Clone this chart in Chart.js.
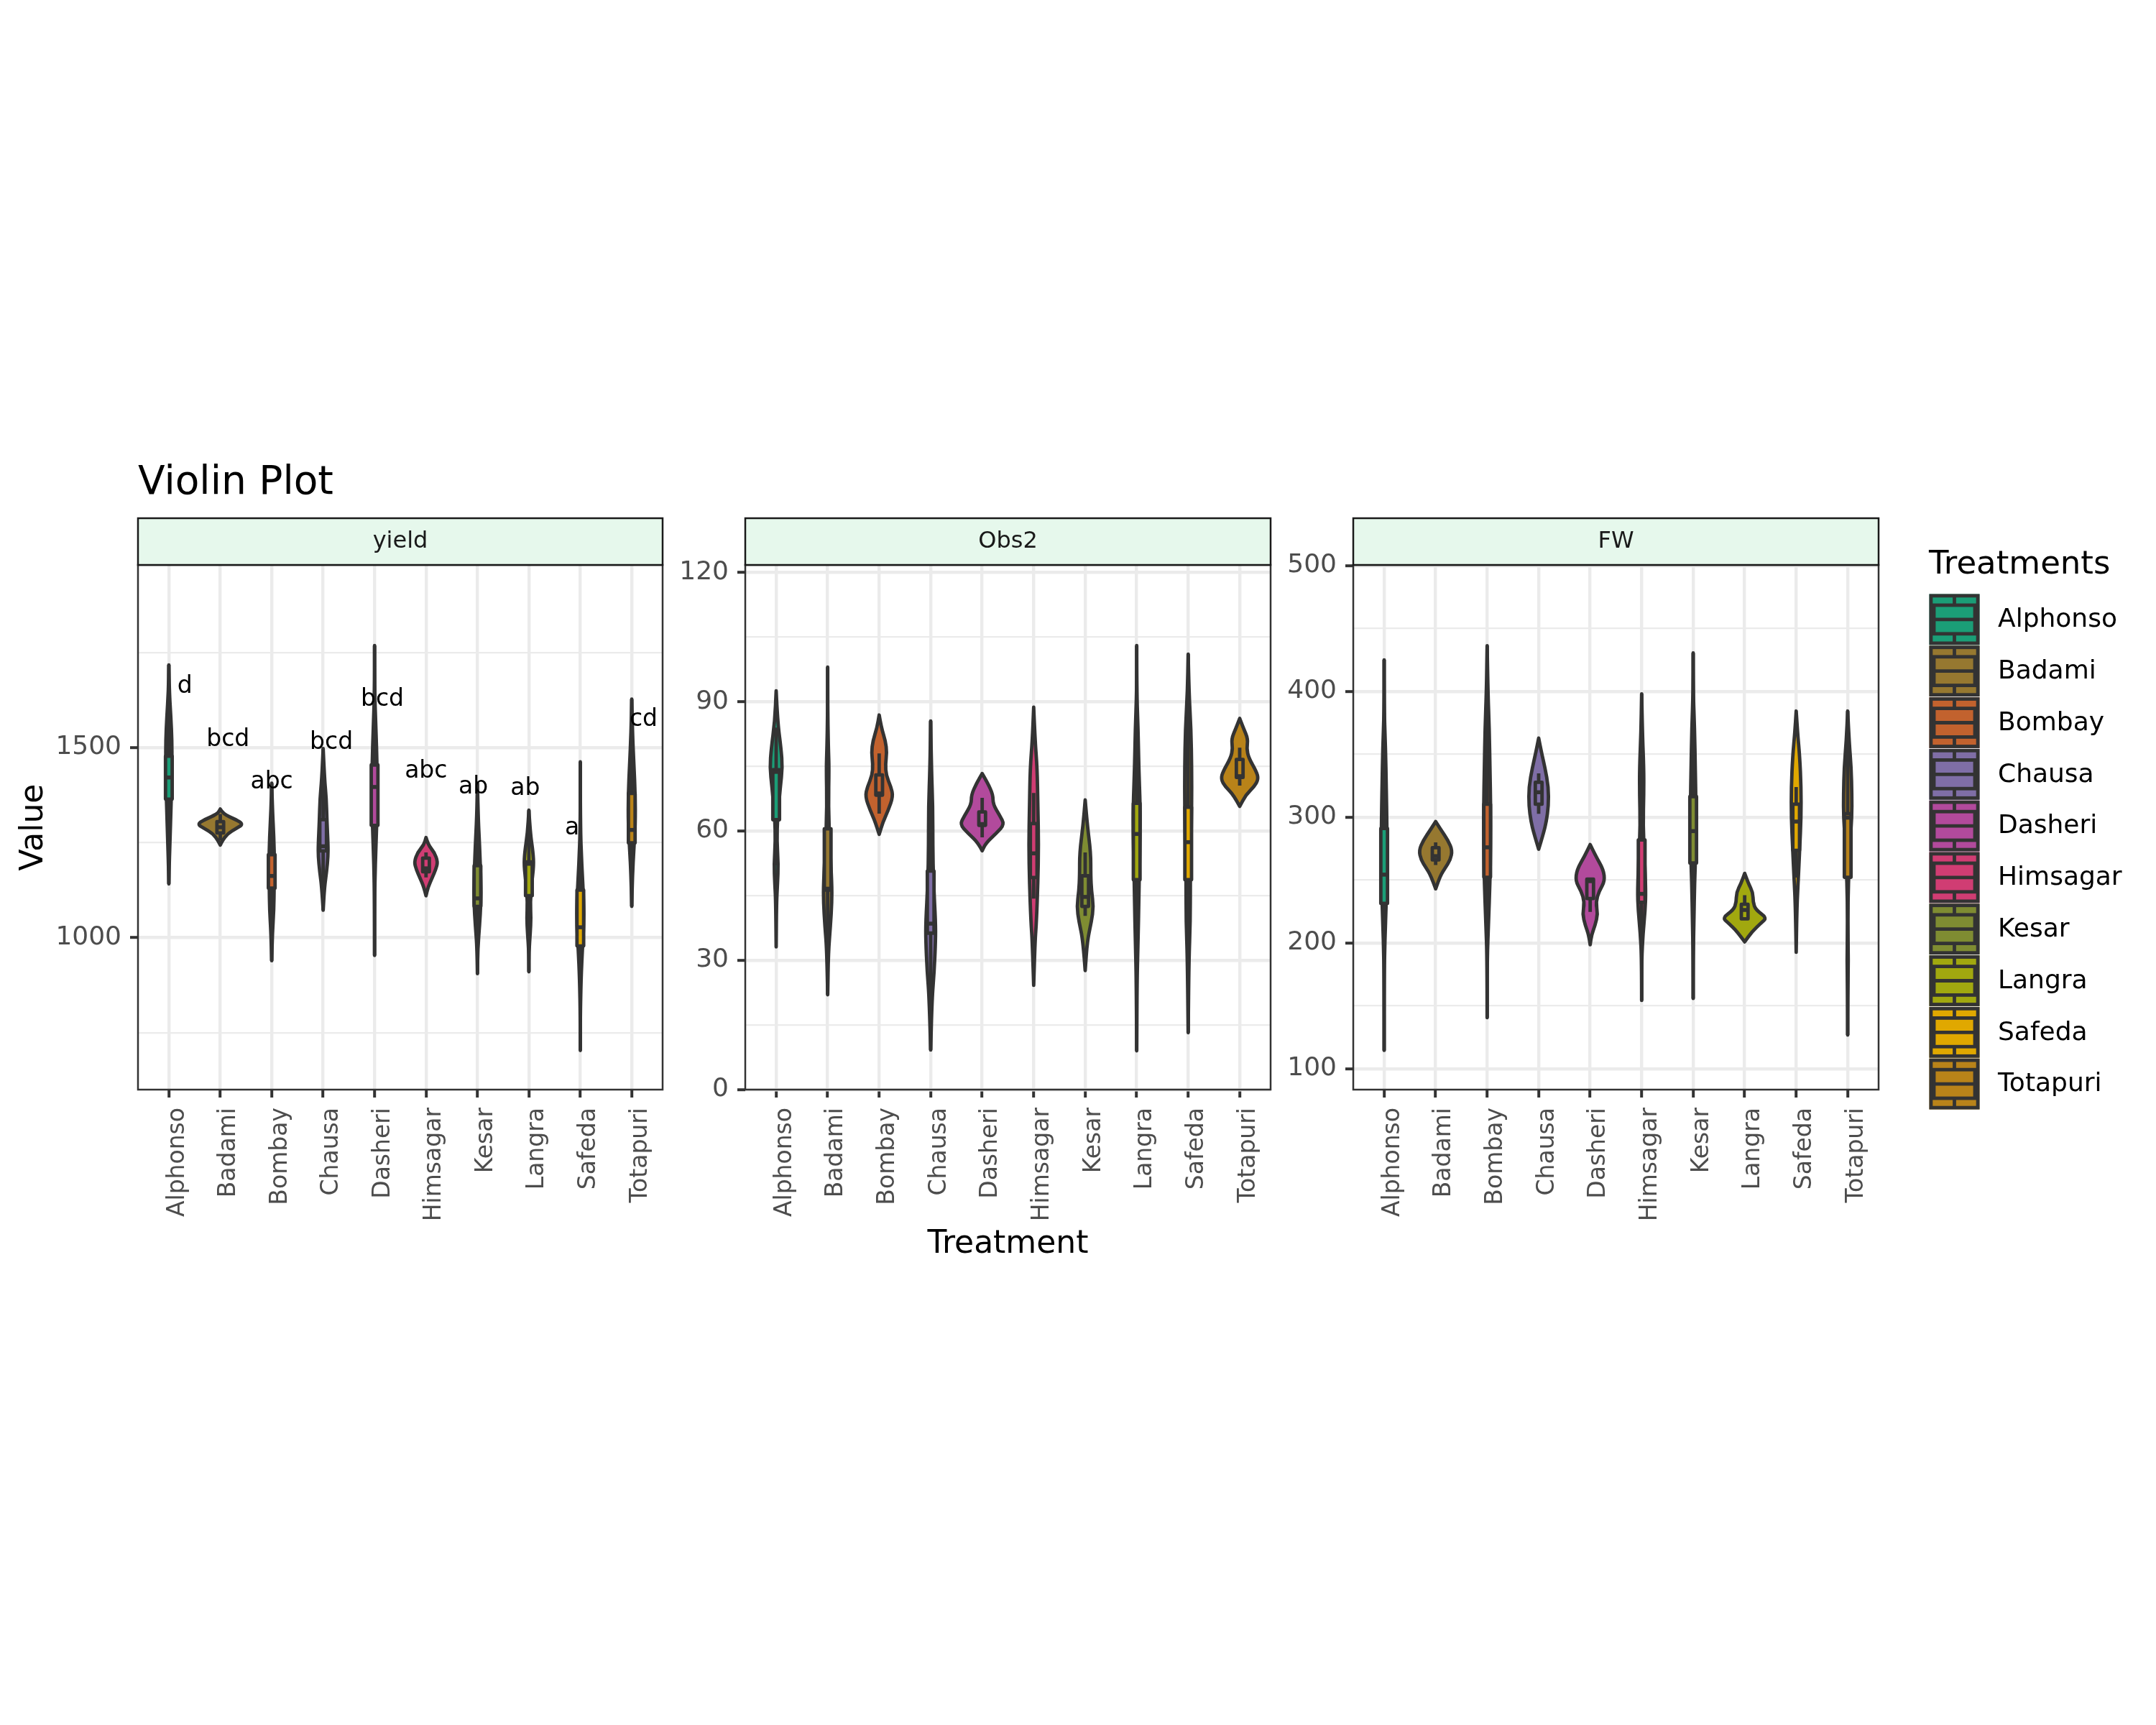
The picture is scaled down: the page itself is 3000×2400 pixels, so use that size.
<!DOCTYPE html>
<html>
<head>
<meta charset="utf-8">
<title>Violin Plot</title>
<script src="https://cdn.jsdelivr.net/npm/chart.js@4.4.1/dist/chart.umd.min.js"></script>
<style>
  html, body { margin: 0; padding: 0; background: #ffffff; }
  #wrap { position: relative; width: 3000px; height: 2400px; }
  #wrap canvas { position: absolute; left: 0; top: 0; }
</style>
</head>
<body>
<div id="wrap">
  <canvas id="p0" width="3000" height="2400"></canvas>
  <canvas id="p1" width="3000" height="2400"></canvas>
  <canvas id="p2" width="3000" height="2400"></canvas>
</div>
<script>
const treatments = ['Alphonso', 'Badami', 'Bombay', 'Chausa', 'Dasheri', 'Himsagar', 'Kesar', 'Langra', 'Safeda', 'Totapuri'];
const treatmentColours = ['#1b9e77', '#967830', '#c2622e', '#7f6ea6', '#b24a9c', '#d03d73', '#7f8c32', '#a1a80f', '#e0a800', '#b98319'];

// density outlines: [value, half width in category units], top tip to bottom tip
// boxes: [lower whisker, q1, median, q3, upper whisker]

// yield
const yieldRange = [600, 1980];
const yieldTicks = [1000, 1500];
const yieldMinorTicks = [750, 1250, 1750];
const yieldDensity = [
  [[1717, 0], [1649, 0.008], [1578, 0.04], [1518, 0.06], [1457, 0.06], [1396, 0.054], [1335, 0.04], [1265, 0.025], [1194, 0.008], [1141, 0]],
  [[1338, 0], [1325, 0.054], [1310, 0.311], [1298, 0.446], [1287, 0.311], [1273, 0.142], [1255, 0.041], [1243, 0]],
  [[1406, 0], [1336, 0.014], [1265, 0.041], [1194, 0.054], [1133, 0.047], [1072, 0.041], [1012, 0.014], [939, 0]],
  [[1497, 0], [1417, 0.027], [1366, 0.061], [1305, 0.074], [1244, 0.095], [1214, 0.095], [1174, 0.068], [1133, 0.027], [1072, 0]],
  [[1768, 0], [1649, 0], [1548, 0.027], [1457, 0.047], [1376, 0.054], [1295, 0.041], [1194, 0.014], [1092, 0], [953, 0]],
  [[1263, 0], [1244, 0.041], [1224, 0.162], [1199, 0.23], [1179, 0.189], [1158, 0.122], [1133, 0.041], [1110, 0]],
  [[1406, 0], [1315, 0.014], [1244, 0.041], [1143, 0.068], [1092, 0.068], [1032, 0.041], [971, 0.007], [905, 0]],
  [[1335, 0], [1275, 0.027], [1224, 0.081], [1189, 0.095], [1143, 0.054], [1092, 0.027], [1052, 0.041], [1012, 0.027], [961, 0], [910, 0]],
  [[1462, 0], [1295, 0], [1194, 0.027], [1092, 0.068], [1032, 0.068], [971, 0.041], [890, 0.014], [789, 0], [703, 0]],
  [[1627, 0], [1538, 0.014], [1457, 0.041], [1376, 0.068], [1295, 0.068], [1234, 0.041], [1163, 0.014], [1082, 0]]
];
const yieldBox = [
  [1141, 1364, 1421, 1477, 1717],
  [1255, 1275, 1290, 1305, 1325],
  [939, 1130, 1162, 1218, 1406],
  [1072, 1228, 1240, 1310, 1497],
  [953, 1295, 1396, 1454, 1768],
  [1158, 1173, 1182, 1209, 1224],
  [905, 1082, 1103, 1189, 1406],
  [910, 1110, 1194, 1199, 1335],
  [703, 978, 1027, 1125, 1462],
  [1082, 1249, 1283, 1379, 1627]
];
const yieldLetters = ['d', 'bcd', 'abc', 'bcd', 'bcd', 'abc', 'ab', 'ab', 'a', 'cd'];
const yieldLetterY = [1660, 1520, 1408, 1513, 1626, 1437, 1396, 1391, 1287, 1573];
const yieldLetterShift = [0.31, 0.15, 0, 0.16, 0.15, 0, -0.08, -0.07, -0.16, 0.23];

// Obs2
const obs2Range = [0, 121.7];
const obs2Ticks = [0, 30, 60, 90, 120];
const obs2MinorTicks = [15, 45, 75, 105];
const obs2Density = [
  [[92.5, 0], [85.4, 0.027], [79.1, 0.095], [74.7, 0.122], [70.2, 0.081], [63.0, 0.027], [57.7, 0.014], [52.3, 0.041], [47.9, 0.027], [43.4, 0.007], [33.1, 0]],
  [[98, 0], [88, 0], [79.1, 0.014], [74.6, 0.027], [65.7, 0.014], [56.8, 0.041], [47.9, 0.081], [43.4, 0.081], [38, 0.054], [31.8, 0.014], [22, 0]],
  [[86.9, 0], [84, 0.041], [80.9, 0.122], [78.2, 0.149], [75.5, 0.122], [72.9, 0.135], [70.2, 0.23], [68, 0.27], [64.8, 0.176], [62.1, 0.074], [59.2, 0]],
  [[85.5, 0], [74.6, 0.014], [65.7, 0.041], [56.8, 0.041], [47.9, 0.054], [39, 0.095], [34.5, 0.095], [27.3, 0.068], [21.1, 0.027], [9.2, 0]],
  [[73.3, 0], [71.1, 0.108], [68.4, 0.21], [66.2, 0.21], [63.5, 0.345], [61.5, 0.432], [59.5, 0.277], [57.2, 0.074], [55.4, 0]],
  [[88.7, 0], [80.9, 0.027], [74.6, 0.068], [65.7, 0.081], [56.8, 0.095], [47.9, 0.081], [39, 0.054], [34.5, 0.027], [24.2, 0]],
  [[67.2, 0], [61.3, 0.041], [55, 0.108], [49.7, 0.108], [46.1, 0.122], [42.5, 0.162], [39, 0.122], [34.5, 0.041], [27.6, 0]],
  [[103, 0], [92.5, 0], [83.6, 0.027], [74.6, 0.041], [65.7, 0.068], [59.5, 0.068], [52.3, 0.054], [43.4, 0.041], [34.5, 0.027], [25.6, 0.007], [9, 0]],
  [[101, 0], [92.5, 0.014], [83.6, 0.054], [74.6, 0.068], [65.7, 0.068], [56.8, 0.054], [47.9, 0.041], [39, 0.041], [30, 0.014], [13.2, 0]],
  [[86.1, 0], [84, 0.068], [81.3, 0.162], [79.1, 0.135], [76.9, 0.176], [73.8, 0.324], [72, 0.365], [70.2, 0.277], [68.4, 0.122], [65.7, 0]]
];
const obs2Box = [
  [52, 62.6, 73.7, 74.2, 84],
  [22, 46.3, 46.6, 60.5, 98],
  [64, 68.3, 68.7, 73, 78],
  [9.2, 36.3, 38.5, 50.7, 85.5],
  [58.5, 61.3, 61.6, 64.4, 67.7],
  [44.3, 49.2, 54.8, 61.7, 68.8],
  [40.3, 42.5, 44.7, 49.6, 55],
  [9, 48.7, 59.3, 66.4, 103],
  [13.2, 48.7, 57.4, 65.5, 101],
  [70.5, 72.4, 72.7, 76.6, 79.3]
];

// FW
const fwRange = [83.3, 500.6];
const fwTicks = [100, 200, 300, 400, 500];
const fwMinorTicks = [150, 250, 350, 450];
const fwDensity = [
  [[425.1, 0], [385.3, 0], [354.7, 0.027], [324.1, 0.041], [293.5, 0.054], [262.9, 0.054], [232.3, 0.041], [201.7, 0.014], [171.1, 0], [114.5, 0]],
  [[296.5, 0], [290.4, 0.095], [281.3, 0.243], [273.6, 0.324], [266, 0.284], [259.8, 0.189], [253.7, 0.095], [243, 0]],
  [[436.4, 0], [400.6, 0.014], [370, 0.041], [339.4, 0.054], [308.8, 0.068], [278.2, 0.068], [247.6, 0.054], [217, 0.027], [186.4, 0], [140.5, 0]],
  [[362.9, 0], [351.6, 0.054], [339.4, 0.122], [324.1, 0.19], [308.8, 0.19], [296.5, 0.149], [287.4, 0.095], [274.5, 0]],
  [[278.2, 0], [269, 0.108], [258.3, 0.257], [249.1, 0.284], [241.4, 0.176], [232.3, 0.108], [223.1, 0.149], [213.9, 0.095], [206.3, 0.027], [198.6, 0]],
  [[398.1, 0], [366.9, 0.014], [339.4, 0.041], [318, 0.041], [293.5, 0.027], [269, 0.054], [241.4, 0.081], [226.2, 0.068], [207.8, 0.027], [186.4, 0], [154.2, 0]],
  [[430.6, 0], [400.6, 0], [370, 0.027], [339.4, 0.041], [308.8, 0.054], [278.2, 0.054], [247.6, 0.027], [217, 0.014], [186.4, 0], [155.8, 0]],
  [[255.3, 0], [247.6, 0.068], [240, 0.162], [232.3, 0.162], [226.2, 0.216], [220, 0.432], [215.5, 0.311], [209.3, 0.149], [200.8, 0]],
  [[384.4, 0], [366.9, 0.027], [348.6, 0.068], [324.1, 0.095], [299.6, 0.095], [275.1, 0.068], [250.6, 0.041], [229.2, 0.014], [192.5, 0]],
  [[384.4, 0], [360.8, 0.027], [339.4, 0.068], [318, 0.081], [299.6, 0.081], [278.2, 0.041], [247.6, 0.014], [217, 0], [186.4, 0.014], [155.8, 0], [126.7, 0]]
];
const fwBox = [
  [114.5, 231.4, 254.3, 291, 425.1],
  [262, 266, 269, 275.7, 280],
  [140.5, 252.2, 276, 310.3, 436.4],
  [302.7, 310.3, 319.8, 327.8, 334.8],
  [224.6, 235.3, 249.1, 250.7, 252],
  [154.2, 232.3, 239, 281.9, 398.1],
  [155.8, 263.5, 288.9, 316.4, 430.6],
  [219, 219.1, 226.2, 230.7, 238],
  [252, 273.6, 296.5, 310.3, 324],
  [126.7, 252.2, 299.6, 302.7, 384.4]
];

const panels = [
  { name: 'yield', range: yieldRange, ticks: yieldTicks, minor: yieldMinorTicks, density: yieldDensity, box: yieldBox,
    letters: yieldLetters, letterY: yieldLetterY, letterShift: yieldLetterShift },
  { name: 'Obs2', range: obs2Range, ticks: obs2Ticks, minor: obs2MinorTicks, density: obs2Density, box: obs2Box },
  { name: 'FW', range: fwRange, ticks: fwTicks, minor: fwMinorTicks, density: fwDensity, box: fwBox }
];

// layout in page pixels
const FONT = '"DejaVu Sans", sans-serif';
const TOP = 786, BOTTOM = 1516, STRIP_H = 65;
const PANEL_X = [[192, 922], [1037, 1768], [1883, 2614]];
const Y_AXIS_W = 180, X_AXIS_H = 200;
const OUTLINE = '#333333';
const LW = 4.8;
const BOX_HALF = 0.065;

function side(ctx, pts, start) {
  if (start) ctx.moveTo(pts[0][0], pts[0][1]);
  else ctx.lineTo(pts[0][0], pts[0][1]);
  for (let k = 1; k < pts.length - 1; k++) {
    const mx = (pts[k][0] + pts[k + 1][0]) / 2;
    const my = (pts[k][1] + pts[k + 1][1]) / 2;
    ctx.quadraticCurveTo(pts[k][0], pts[k][1], mx, my);
  }
  const last = pts[pts.length - 1];
  ctx.lineTo(last[0], last[1]);
}

function drawViolin(ctx, xs, ys, i, knots, colour) {
  const right = knots.map(([v, w]) => [xs.getPixelForValue(i + w), ys.getPixelForValue(v)]);
  const left = knots.slice().reverse().map(([v, w]) => [xs.getPixelForValue(i - w), ys.getPixelForValue(v)]);
  ctx.beginPath();
  side(ctx, right, true);
  side(ctx, left, false);
  ctx.closePath();
  ctx.fillStyle = colour;
  ctx.fill();
  ctx.lineWidth = LW;
  ctx.strokeStyle = OUTLINE;
  ctx.lineJoin = 'round';
  ctx.lineCap = 'round';
  ctx.stroke();
}

function drawBox(ctx, xs, ys, i, b, colour) {
  const [lo, q1, med, q3, hi] = b;
  const cx = xs.getPixelForValue(i);
  const x0 = xs.getPixelForValue(i - BOX_HALF);
  const x1 = xs.getPixelForValue(i + BOX_HALF);
  ctx.strokeStyle = OUTLINE;
  ctx.lineWidth = LW;
  ctx.lineCap = 'butt';
  ctx.beginPath();
  ctx.moveTo(cx, ys.getPixelForValue(hi)); ctx.lineTo(cx, ys.getPixelForValue(q3));
  ctx.moveTo(cx, ys.getPixelForValue(q1)); ctx.lineTo(cx, ys.getPixelForValue(lo));
  ctx.stroke();
  const yTop = ys.getPixelForValue(q3), yBot = ys.getPixelForValue(q1);
  ctx.fillStyle = colour;
  ctx.fillRect(x0, yTop, x1 - x0, yBot - yTop);
  ctx.strokeRect(x0, yTop, x1 - x0, yBot - yTop);
  ctx.lineWidth = 5.5;
  ctx.beginPath();
  const ym = ys.getPixelForValue(med);
  ctx.moveTo(x0, ym); ctx.lineTo(x1, ym);
  ctx.stroke();
}

function drawDecor(ctx) {
  ctx.save();
  ctx.fillStyle = '#000000';
  ctx.font = '55px ' + FONT;
  ctx.textAlign = 'left';
  ctx.textBaseline = 'alphabetic';
  ctx.fillText('Violin Plot', 192, 687);

  ctx.font = '44px ' + FONT;
  ctx.textAlign = 'center';
  ctx.fillText('Treatment', (PANEL_X[1][0] + PANEL_X[1][1]) / 2, 1743);
  ctx.save();
  ctx.translate(59, (TOP + BOTTOM) / 2);
  ctx.rotate(-Math.PI / 2);
  ctx.fillText('Value', 0, 0);
  ctx.restore();

  // legend
  const lx = 2684, lw = 71, ly = 826, lh = 71.8;
  ctx.textAlign = 'left';
  ctx.font = '45px ' + FONT;
  ctx.fillText('Treatments', lx, 798);
  ctx.font = '36px ' + FONT;
  ctx.textBaseline = 'middle';
  treatments.forEach((t, k) => {
    const top = ly + k * lh;
    ctx.fillStyle = treatmentColours[k];
    ctx.fillRect(lx + 0.5, top + 0.5, lw - 1, lh - 1);
    ctx.strokeStyle = OUTLINE;
    ctx.lineWidth = LW;
    ctx.strokeRect(lx + 2.9, top + 2.9, lw - 5.8, lh - 5.8);
    const bx0 = lx + 7, bx1 = lx + lw - 7, by0 = top + 16, by1 = top + lh - 16;
    const cx = lx + lw / 2;
    ctx.beginPath();
    ctx.moveTo(cx, top + 3); ctx.lineTo(cx, by0);
    ctx.moveTo(cx, by1); ctx.lineTo(cx, top + lh - 3);
    ctx.moveTo(bx0, (by0 + by1) / 2); ctx.lineTo(bx1, (by0 + by1) / 2);
    ctx.stroke();
    ctx.strokeRect(bx0, by0, bx1 - bx0, by1 - by0);
    ctx.fillStyle = '#000000';
    ctx.fillText(t, 2780, top + lh / 2 + 1);
  });
  ctx.restore();
}

function panelPlugin(k, p) {
  return {
    id: 'violinPanel' + k,
    afterDatasetsDraw(chart) {
      const { ctx, scales: { x, y } } = chart;
      ctx.save();
      p.density.forEach((knots, i) => {
        drawViolin(ctx, x, y, i, knots, treatmentColours[i]);
        drawBox(ctx, x, y, i, p.box[i], treatmentColours[i]);
      });
      if (p.letters) {
        ctx.fillStyle = '#000000';
        ctx.font = '33px ' + FONT;
        ctx.textAlign = 'center';
        ctx.textBaseline = 'middle';
        p.letters.forEach((l, i) => {
          ctx.fillText(l, x.getPixelForValue(i + p.letterShift[i]), y.getPixelForValue(p.letterY[i]));
        });
      }
      ctx.restore();
    },
    afterDraw(chart) {
      const { ctx, chartArea: a } = chart;
      ctx.save();
      ctx.strokeStyle = OUTLINE;
      ctx.lineWidth = 2.5;
      ctx.strokeRect(a.left, a.top, a.right - a.left, a.bottom - a.top);
      ctx.fillStyle = '#e6f8ec';
      ctx.fillRect(a.left, a.top - STRIP_H, a.right - a.left, STRIP_H);
      ctx.strokeStyle = '#1a1a1a';
      ctx.strokeRect(a.left, a.top - STRIP_H, a.right - a.left, STRIP_H);
      ctx.fillStyle = '#1a1a1a';
      ctx.font = '32px ' + FONT;
      ctx.textAlign = 'center';
      ctx.textBaseline = 'middle';
      ctx.fillText(p.name, (a.left + a.right) / 2, a.top - STRIP_H / 2);
      ctx.restore();
      if (k === 0) drawDecor(ctx);
    }
  };
}

function buildPanel(k, p) {
  const [left, right] = PANEL_X[k];
  const yTicks = p.ticks.map(v => ({ value: v, minor: false }))
    .concat(p.minor.map(v => ({ value: v, minor: true })))
    .sort((a, b) => a.value - b.value);
  return new Chart(document.getElementById('p' + k), {
    type: 'scatter',
    data: {
      datasets: [{ data: p.box.map((b, i) => ({ x: i, y: b[2] })), pointRadius: 0, showLine: false }]
    },
    options: {
      responsive: false,
      animation: false,
      devicePixelRatio: 1,
      events: [],
      layout: { padding: { left: left - Y_AXIS_W, right: 3000 - right, top: TOP, bottom: 2400 - BOTTOM - X_AXIS_H } },
      plugins: { legend: { display: false }, tooltip: { enabled: false } },
      scales: {
        x: {
          type: 'linear',
          min: -0.6,
          max: 9.6,
          afterBuildTicks: s => { s.ticks = treatments.map((t, i) => ({ value: i })); },
          afterFit: s => { s.height = X_AXIS_H; },
          border: { display: false },
          grid: { color: '#ebebeb', lineWidth: 4.4, tickLength: 11, tickColor: OUTLINE, tickWidth: 4 },
          ticks: {
            autoSkip: false, minRotation: 90, maxRotation: 90, padding: 14, labelOffset: 12,
            color: '#4d4d4d', font: { family: FONT, size: 33 },
            callback: (v, i) => treatments[i]
          }
        },
        y: {
          type: 'linear',
          min: p.range[0],
          max: p.range[1],
          afterBuildTicks: s => { s.ticks = yTicks.map(t => ({ value: t.value, minor: t.minor })); },
          afterFit: s => { s.width = Y_AXIS_W; },
          border: { display: false },
          grid: {
            color: '#ebebeb',
            lineWidth: c => (c.tick && c.tick.minor ? 2.2 : 4.4),
            tickLength: 11,
            tickColor: c => (c.tick && c.tick.minor ? 'rgba(0,0,0,0)' : OUTLINE),
            tickWidth: 4
          },
          ticks: {
            padding: 12, color: '#4d4d4d', font: { family: FONT, size: 36 },
            callback: (v, i, ticks) => (ticks[i] && ticks[i].minor ? '' : String(v))
          }
        }
      }
    },
    plugins: [panelPlugin(k, p)]
  });
}

panels.forEach((p, k) => buildPanel(k, p));
</script>
</body>
</html>
